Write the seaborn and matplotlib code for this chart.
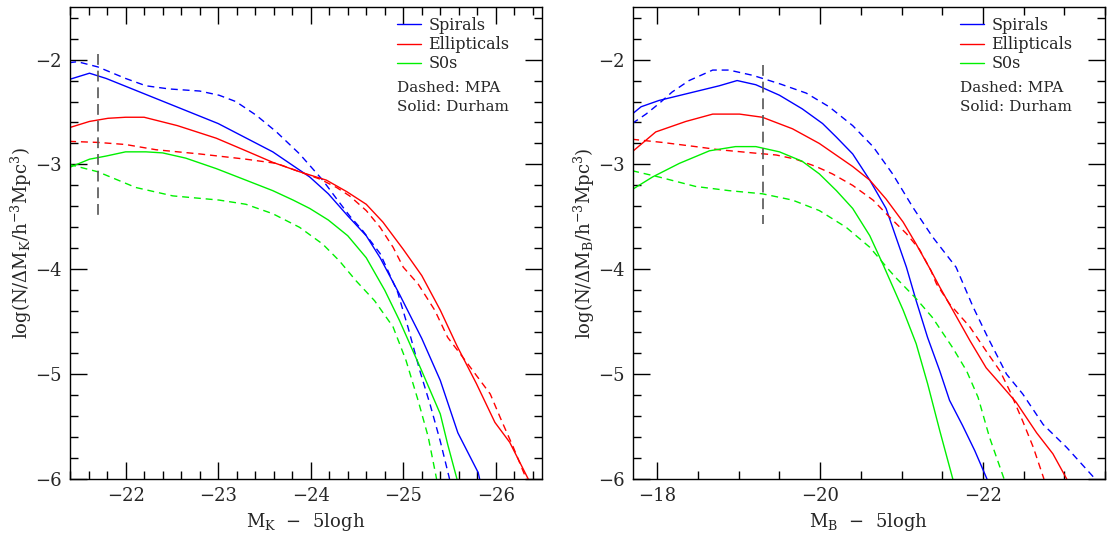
import numpy as np
import pandas as pd
import matplotlib
matplotlib.use("Agg")
import matplotlib.pyplot as plt
from matplotlib.lines import Line2D
from matplotlib.ticker import MultipleLocator
import seaborn as sns

# ---------------- data: K band (left panel) ----------------
K_spi_dur_x = [-21.39, -21.61, -21.79, -23.0, -23.59, -23.99, -24.19, -24.40, -24.60, -24.75, -24.96, -25.20, -25.40, -25.59, -25.81, -25.83]
K_spi_dur_y = [-2.19, -2.13, -2.18, -2.61, -2.88, -3.12, -3.28, -3.49, -3.68, -3.89, -4.24, -4.66, -5.06, -5.56, -5.94, -6.02]
K_spi_mpa_x = [-21.39, -21.48, -21.70, -22.0, -22.22, -22.47, -22.80, -23.01, -23.19, -23.41, -23.63, -23.88, -24.13, -24.29, -24.42, -24.56, -24.75, -24.94, -25.05, -25.18, -25.29, -25.40, -25.50]
K_spi_mpa_y = [-2.03, -2.02, -2.07, -2.18, -2.25, -2.28, -2.30, -2.34, -2.40, -2.53, -2.69, -2.90, -3.15, -3.34, -3.49, -3.63, -3.85, -4.22, -4.55, -4.97, -5.29, -5.64, -6.0]
K_ell_dur_x = [-21.39, -21.61, -21.81, -22.0, -22.20, -22.56, -22.98, -23.30, -23.59, -23.88, -24.17, -24.39, -24.60, -24.78, -25.0, -25.20, -25.40, -25.58, -25.79, -25.99, -26.15, -26.35]
K_ell_dur_y = [-2.65, -2.59, -2.56, -2.55, -2.55, -2.63, -2.75, -2.87, -2.98, -3.07, -3.15, -3.26, -3.38, -3.55, -3.81, -4.06, -4.39, -4.73, -5.09, -5.46, -5.65, -6.0]
K_ell_mpa_x = [-21.39, -21.70, -22.0, -22.33, -22.80, -23.30, -23.63, -23.88, -24.10, -24.28, -24.42, -24.60, -24.75, -24.89, -25.0, -25.16, -25.34, -25.48, -25.67, -25.94, -26.06, -26.19, -26.33]
K_ell_mpa_y = [-2.78, -2.79, -2.81, -2.86, -2.90, -2.95, -2.99, -3.07, -3.14, -3.22, -3.30, -3.44, -3.60, -3.79, -3.98, -4.14, -4.39, -4.65, -4.87, -5.19, -5.44, -5.70, -6.0]
K_s0_dur_x = [-21.39, -21.61, -21.79, -22.0, -22.22, -22.40, -22.65, -22.98, -23.30, -23.59, -23.81, -23.99, -24.19, -24.40, -24.60, -24.80, -24.96, -25.20, -25.40, -25.48, -25.58]
K_s0_dur_y = [-3.03, -2.95, -2.92, -2.88, -2.88, -2.89, -2.94, -3.04, -3.15, -3.25, -3.34, -3.42, -3.53, -3.68, -3.89, -4.20, -4.49, -4.97, -5.38, -5.67, -6.0]
K_s0_mpa_x = [-21.39, -21.70, -22.11, -22.51, -23.01, -23.30, -23.59, -23.88, -24.13, -24.31, -24.49, -24.69, -24.89, -25.03, -25.16, -25.27, -25.36]
K_s0_mpa_y = [-3.0, -3.07, -3.22, -3.30, -3.34, -3.38, -3.47, -3.60, -3.76, -3.92, -4.11, -4.30, -4.55, -4.87, -5.25, -5.60, -6.0]

# ---------------- data: B band (right panel) ----------------
B_spi_dur_x = [-17.69, -17.80, -18.02, -18.39, -18.76, -18.98, -19.21, -19.50, -19.78, -20.03, -20.20, -20.40, -20.61, -20.81, -20.93, -21.06, -21.18, -21.32, -21.47, -21.59, -21.75, -21.90, -22.05]
B_spi_dur_y = [-2.52, -2.45, -2.39, -2.32, -2.25, -2.20, -2.24, -2.34, -2.47, -2.61, -2.74, -2.90, -3.15, -3.42, -3.69, -3.98, -4.30, -4.65, -4.97, -5.25, -5.49, -5.73, -6.0]
B_spi_mpa_x = [-17.69, -17.86, -18.02, -18.18, -18.39, -18.68, -18.88, -19.17, -19.50, -19.83, -20.11, -20.40, -20.65, -20.89, -21.14, -21.38, -21.67, -21.88, -22.06, -22.29, -22.49, -22.74, -23.03, -23.38]
B_spi_mpa_y = [-2.61, -2.52, -2.42, -2.31, -2.20, -2.10, -2.10, -2.15, -2.23, -2.32, -2.45, -2.63, -2.83, -3.09, -3.41, -3.69, -3.98, -4.36, -4.65, -5.0, -5.19, -5.48, -5.70, -6.0]
B_ell_dur_x = [-17.69, -17.98, -18.35, -18.68, -19.01, -19.29, -19.66, -19.99, -20.40, -20.61, -20.81, -21.02, -21.18, -21.36, -21.47, -21.63, -21.84, -22.04, -22.21, -22.41, -22.66, -22.86, -23.03]
B_ell_dur_y = [-2.88, -2.69, -2.59, -2.52, -2.52, -2.55, -2.66, -2.80, -3.02, -3.15, -3.33, -3.55, -3.76, -4.01, -4.17, -4.39, -4.68, -4.94, -5.09, -5.27, -5.56, -5.76, -6.0]
B_ell_mpa_x = [-17.69, -18.06, -18.47, -18.76, -19.17, -19.46, -19.70, -19.95, -20.15, -20.40, -20.65, -20.85, -21.06, -21.22, -21.36, -21.43, -21.59, -21.84, -22.04, -22.21, -22.33, -22.49, -22.62, -22.75]
B_ell_mpa_y = [-2.76, -2.79, -2.83, -2.86, -2.89, -2.91, -2.95, -3.02, -3.09, -3.20, -3.34, -3.50, -3.66, -3.81, -4.01, -4.14, -4.33, -4.55, -4.78, -4.97, -5.16, -5.45, -5.70, -6.0]
B_s0_dur_x = [-17.69, -17.94, -18.27, -18.64, -18.96, -19.21, -19.50, -19.78, -19.99, -20.20, -20.40, -20.61, -20.77, -21.02, -21.18, -21.32, -21.47, -21.63]
B_s0_dur_y = [-3.24, -3.12, -2.99, -2.87, -2.83, -2.83, -2.88, -2.97, -3.09, -3.25, -3.42, -3.68, -3.95, -4.39, -4.71, -5.09, -5.54, -6.0]
B_s0_mpa_x = [-17.69, -18.02, -18.47, -18.88, -19.29, -19.66, -19.99, -20.32, -20.61, -20.85, -20.93, -21.18, -21.38, -21.63, -21.80, -21.94, -22.08, -22.26]
B_s0_mpa_y = [-3.06, -3.12, -3.21, -3.25, -3.28, -3.34, -3.44, -3.60, -3.79, -4.01, -4.08, -4.28, -4.46, -4.75, -4.97, -5.22, -5.60, -6.0]

# magnitude-limit markers
K_cut_x = [-21.7, -21.7]
K_cut_y = [-1.95, -3.48]
B_cut_x = [-19.3, -19.3]
B_cut_y = [-2.05, -3.57]

types = ["Spirals", "Ellipticals", "S0s"]
colors = {"Spirals": "#0000ff", "Ellipticals": "#ff0000", "S0s": "#00f000"}
legend_notes = ["Dashed: MPA", "Solid: Durham"]


def build(prefix):
    g = globals()
    rows = []
    for t, key in zip(types, ["spi", "ell", "s0"]):
        for src, sk in [("Durham", "dur"), ("MPA", "mpa")]:
            xs = g[f"{prefix}_{key}_{sk}_x"]
            ys = g[f"{prefix}_{key}_{sk}_y"]
            for i, (a, b) in enumerate(zip(xs, ys)):
                rows.append({"mag": a, "logn": b, "type": t, "source": src, "order": i})
    return pd.DataFrame(rows)


sns.set_theme(style="ticks")
plt.rcParams["font.family"] = ["DejaVu Serif"]
plt.rcParams["mathtext.fontset"] = "dejavuserif"
plt.rcParams["axes.linewidth"] = 1.0

fig = plt.figure(figsize=(11.12, 5.38), dpi=100)
axL = fig.add_axes([0.063, 0.1097, 0.4245, 0.877])
axR = fig.add_axes([0.5692, 0.1097, 0.4245, 0.877])

panels = [
    (axL, "K", (-21.4, -26.5), 1.0, 0.2, K_cut_x, K_cut_y),
    (axR, "B", (-17.7, -23.5), 2.0, 0.5, B_cut_x, B_cut_y),
]

for ax, band, xlim, xmaj, xmin, cx, cy in panels:
    df = build(band)
    sns.lineplot(data=df, x="mag", y="logn", hue="type", style="source",
                 palette=colors, dashes={"Durham": "", "MPA": (5, 3.5)},
                 units="type", estimator=None, sort=False, legend=False,
                 lw=1.0, ax=ax)
    ax.plot(cx, cy, color="#555555", lw=1.2, dashes=(6.5, 3.5))
    ax.set_xlim(*xlim)
    ax.set_ylim(-6, -1.5)
    ax.xaxis.set_major_locator(MultipleLocator(xmaj))
    ax.xaxis.set_minor_locator(MultipleLocator(xmin))
    ax.yaxis.set_major_locator(MultipleLocator(1))
    ax.yaxis.set_minor_locator(MultipleLocator(0.2))
    ax.tick_params(which="both", direction="in", top=True, right=True,
                   color="black", width=1.0, labelsize=13)
    ax.tick_params(which="major", length=12)
    ax.tick_params(which="minor", length=6)
    ax.tick_params(axis="x", pad=6)
    ax.tick_params(axis="y", pad=6)
    for s in ax.spines.values():
        s.set_color("black")
    ax.set_xlabel(r"M$_{\rm %s}$  $-$  5logh" % band, fontsize=13, labelpad=4)
    ax.set_ylabel(r"log(N/$\Delta$M$_{\rm %s}$/h$^{-3}$Mpc$^{3}$)" % band,
                  fontsize=13, labelpad=0.5)

    handles = [Line2D([], [], color=colors[t], lw=1.0) for t in types]
    ax.legend(handles, types, loc="upper left", bbox_to_anchor=(0.693, 0.979),
              frameon=False, fontsize=11.5, handlelength=1.5,
              handletextpad=0.45, labelspacing=0.13, borderpad=0,
              borderaxespad=0)
    ax.text(0.693, 0.828, legend_notes[0], transform=ax.transAxes,
            fontsize=11, va="center", ha="left")
    ax.text(0.693, 0.788, legend_notes[1], transform=ax.transAxes,
            fontsize=11, va="center", ha="left")

fig.savefig("out.png", dpi=100)
